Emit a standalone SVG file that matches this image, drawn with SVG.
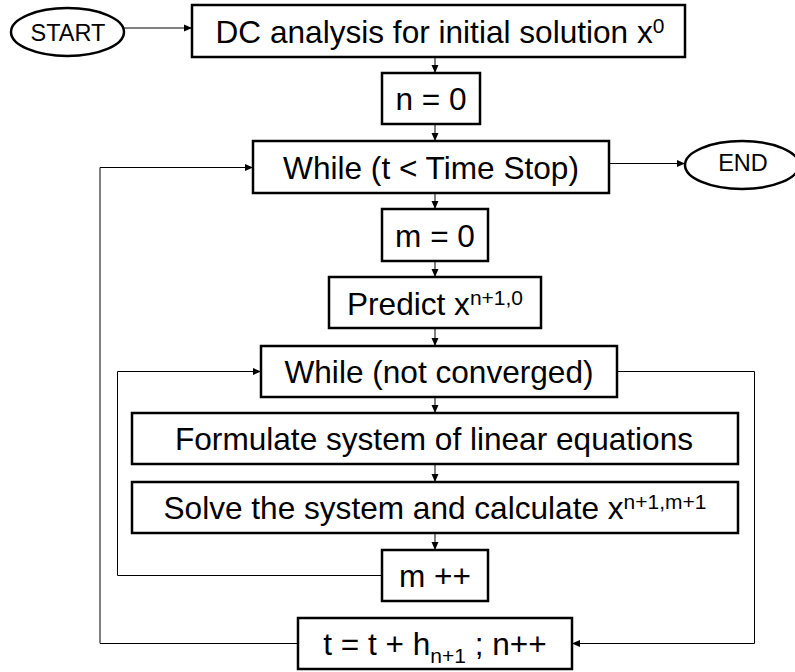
<svg xmlns="http://www.w3.org/2000/svg" width="795" height="672" viewBox="0 0 795 672">
  <defs>
    <marker id="arrow" markerUnits="userSpaceOnUse" markerWidth="8" markerHeight="8" viewBox="0 0 8 8" refX="8" refY="4" orient="auto">
      <path d="M0,0.5 L8,4 L0,7.5 Z" fill="#000"/>
    </marker>
  </defs>
  <style>
    rect.box { fill: #fff; stroke: #000; stroke-width: 2.5; }
    ellipse.term { fill: #fff; stroke: #000; stroke-width: 2.5; }
    text { font-family: "Liberation Sans", Arial, sans-serif; fill: #000; }
    text.main { font-size: 31.6px; text-anchor: middle; }
    text.term { font-size: 23.5px; text-anchor: middle; }
    tspan.sup, tspan.sub { font-size: 21px; }
    .conn path { fill: none; stroke: #000; stroke-width: 1; }
  </style>

  <!-- connectors -->
  <g id="connectors" class="conn">
    <path d="M124,28 H192" marker-end="url(#arrow)"/>
    <path d="M435,57 V73" marker-end="url(#arrow)"/>
    <path d="M435,124 V141" marker-end="url(#arrow)"/>
    <path d="M609,163.5 H685" marker-end="url(#arrow)"/>
    <path d="M435,193 V209" marker-end="url(#arrow)"/>
    <path d="M435,261 V277" marker-end="url(#arrow)"/>
    <path d="M435,328 V346" marker-end="url(#arrow)"/>
    <path d="M435,397 V413" marker-end="url(#arrow)"/>
    <path d="M435,464 V482" marker-end="url(#arrow)"/>
    <path d="M435,533 V550" marker-end="url(#arrow)"/>
    <!-- inner loop: back to convergence test -->
    <path d="M382,575.5 H117.5 V371.5 H261" marker-end="url(#arrow)"/>
    <!-- converged: advance time step -->
    <path d="M617,371.5 H754.5 V643.5 H572" marker-end="url(#arrow)"/>
    <!-- outer loop: back to time test -->
    <path d="M298,643.5 H100 V167.5 H253" marker-end="url(#arrow)"/>
  </g>

  <g id="start">
    <ellipse class="term" cx="67.5" cy="32" rx="56.5" ry="24"/>
    <text class="term" x="68" y="40.5">START</text>
  </g>

  <g id="dc-analysis">
    <rect class="box" x="192" y="5" width="493" height="52"/>
    <text class="main" x="440" y="42.5">DC analysis for initial solution x<tspan class="sup" dy="-10">0</tspan></text>
  </g>

  <g id="n-init">
    <rect class="box" x="382" y="73" width="98" height="51"/>
    <text class="main" x="431" y="110">n = 0</text>
  </g>

  <g id="time-loop">
    <rect class="box" x="253" y="141" width="356" height="52"/>
    <text class="main" x="431" y="178.5">While (t &lt; Time Stop)</text>
  </g>

  <g id="end">
    <ellipse class="term" cx="742" cy="165" rx="57" ry="24"/>
    <text class="term" x="743" y="170.5">END</text>
  </g>

  <g id="m-init">
    <rect class="box" x="382" y="209" width="106" height="52"/>
    <text class="main" x="435" y="246.5">m = 0</text>
  </g>

  <g id="predict">
    <rect class="box" x="329" y="277" width="212" height="51"/>
    <text class="main" x="435" y="314.5">Predict x<tspan class="sup" dy="-10">n+1,0</tspan></text>
  </g>

  <g id="newton-loop">
    <rect class="box" x="261" y="346" width="356" height="51"/>
    <text class="main" x="439" y="383">While (not converged)</text>
  </g>

  <g id="formulate">
    <rect class="box" x="132" y="413" width="606" height="51"/>
    <text class="main" x="434" y="450">Formulate system of linear equations</text>
  </g>

  <g id="solve">
    <rect class="box" x="132" y="482" width="606" height="51"/>
    <text class="main" x="435" y="519">Solve the system and calculate x<tspan class="sup" dy="-10">n+1,m+1</tspan></text>
  </g>

  <g id="m-inc">
    <rect class="box" x="382" y="550" width="106" height="51"/>
    <text class="main" x="435" y="587">m ++</text>
  </g>

  <g id="t-step">
    <rect class="box" x="298" y="618" width="274" height="51"/>
    <text class="main" x="435" y="655">t = t + h<tspan class="sub" dy="8">n+1</tspan><tspan dy="-8"> ; n++</tspan></text>
  </g>
</svg>
